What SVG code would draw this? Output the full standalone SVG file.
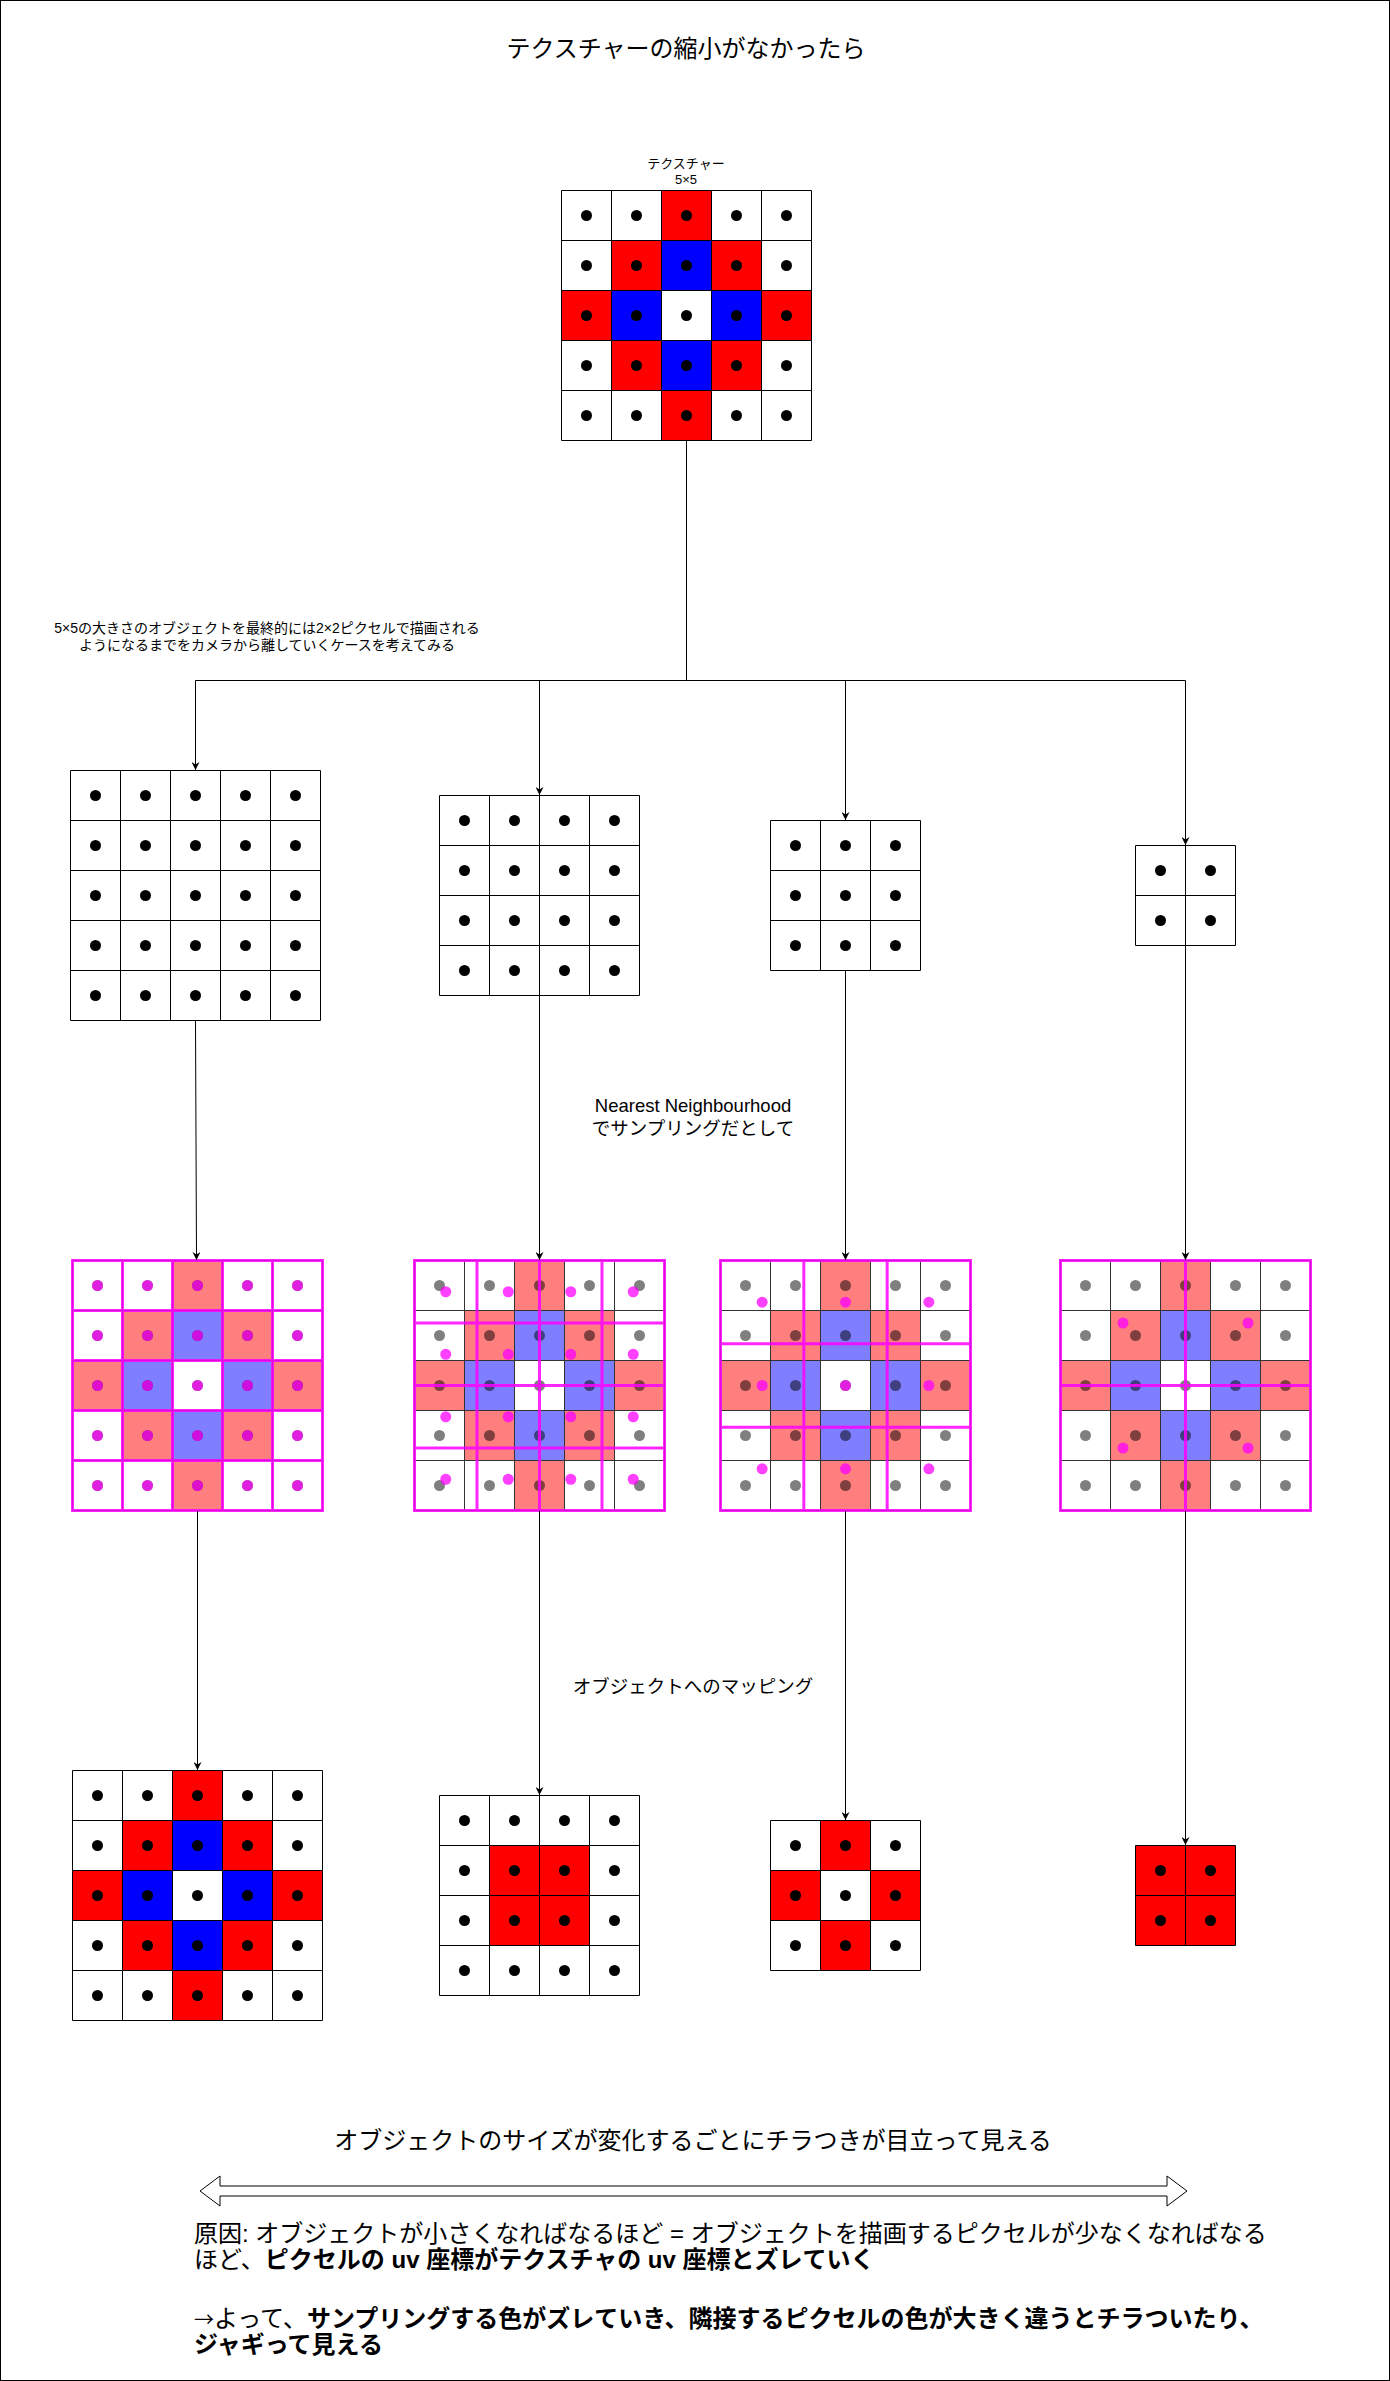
<svg xmlns="http://www.w3.org/2000/svg" xmlns:xlink="http://www.w3.org/1999/xlink" width="1390" height="2381" viewBox="0 0 1390 2381">
<style>
  text { font-family: "Liberation Sans", "Noto Sans CJK JP", sans-serif; fill: #000; }
  .grid { fill: none; stroke: #000; stroke-width: 1; }
  .fgrid { fill: none; stroke: #333; stroke-width: 1; }
  .mgrid { fill: none; stroke: #FF00FF; stroke-width: 3; stroke-opacity: 0.85; }
  .red { fill: #FF0000; }
  .blue { fill: #0000FF; }
  .bg { fill: #FFFFFF; }
  .conn { fill: none; stroke: #000; stroke-width: 1; }
  .mdot { fill: #FF00FF; fill-opacity: 0.75; }
</style>
<defs>
  <marker id="arr" viewBox="0 0 10 10" refX="10" refY="5" markerWidth="8" markerHeight="8" markerUnits="userSpaceOnUse" orient="auto">
    <path d="M0,0 L10,5 L0,10 L3,5 Z" fill="#000"/>
  </marker>
  <g id="cells5">
    <rect class="red" x="100" y="0" width="50" height="50"/>
    <rect class="red" x="50" y="50" width="50" height="50"/>
    <rect class="blue" x="100" y="50" width="50" height="50"/>
    <rect class="red" x="150" y="50" width="50" height="50"/>
    <rect class="red" x="0" y="100" width="50" height="50"/>
    <rect class="blue" x="50" y="100" width="50" height="50"/>
    <rect class="blue" x="150" y="100" width="50" height="50"/>
    <rect class="red" x="200" y="100" width="50" height="50"/>
    <rect class="red" x="50" y="150" width="50" height="50"/>
    <rect class="blue" x="100" y="150" width="50" height="50"/>
    <rect class="red" x="150" y="150" width="50" height="50"/>
    <rect class="red" x="100" y="200" width="50" height="50"/>
  </g>
  <path id="grid5" d="M0,0H250V250H0Z M50,0V250 M100,0V250 M150,0V250 M200,0V250 M0,50H250 M0,100H250 M0,150H250 M0,200H250"/>
  <path id="grid4" d="M0,0H200V200H0Z M50,0V200 M100,0V200 M150,0V200 M0,50H200 M0,100H200 M0,150H200"/>
  <path id="grid3" d="M0,0H150V150H0Z M50,0V150 M100,0V150 M0,50H150 M0,100H150"/>
  <path id="grid2" d="M0,0H100V100H0Z M50,0V100 M0,50H100"/>
  <g id="dots5">
    <circle cx="25" cy="25" r="5.5"/><circle cx="75" cy="25" r="5.5"/><circle cx="125" cy="25" r="5.5"/><circle cx="175" cy="25" r="5.5"/><circle cx="225" cy="25" r="5.5"/>
    <circle cx="25" cy="75" r="5.5"/><circle cx="75" cy="75" r="5.5"/><circle cx="125" cy="75" r="5.5"/><circle cx="175" cy="75" r="5.5"/><circle cx="225" cy="75" r="5.5"/>
    <circle cx="25" cy="125" r="5.5"/><circle cx="75" cy="125" r="5.5"/><circle cx="125" cy="125" r="5.5"/><circle cx="175" cy="125" r="5.5"/><circle cx="225" cy="125" r="5.5"/>
    <circle cx="25" cy="175" r="5.5"/><circle cx="75" cy="175" r="5.5"/><circle cx="125" cy="175" r="5.5"/><circle cx="175" cy="175" r="5.5"/><circle cx="225" cy="175" r="5.5"/>
    <circle cx="25" cy="225" r="5.5"/><circle cx="75" cy="225" r="5.5"/><circle cx="125" cy="225" r="5.5"/><circle cx="175" cy="225" r="5.5"/><circle cx="225" cy="225" r="5.5"/>
  </g>
  <g id="dots4">
    <circle cx="25" cy="25" r="5.5"/><circle cx="75" cy="25" r="5.5"/><circle cx="125" cy="25" r="5.5"/><circle cx="175" cy="25" r="5.5"/>
    <circle cx="25" cy="75" r="5.5"/><circle cx="75" cy="75" r="5.5"/><circle cx="125" cy="75" r="5.5"/><circle cx="175" cy="75" r="5.5"/>
    <circle cx="25" cy="125" r="5.5"/><circle cx="75" cy="125" r="5.5"/><circle cx="125" cy="125" r="5.5"/><circle cx="175" cy="125" r="5.5"/>
    <circle cx="25" cy="175" r="5.5"/><circle cx="75" cy="175" r="5.5"/><circle cx="125" cy="175" r="5.5"/><circle cx="175" cy="175" r="5.5"/>
  </g>
  <g id="dots3">
    <circle cx="25" cy="25" r="5.5"/><circle cx="75" cy="25" r="5.5"/><circle cx="125" cy="25" r="5.5"/>
    <circle cx="25" cy="75" r="5.5"/><circle cx="75" cy="75" r="5.5"/><circle cx="125" cy="75" r="5.5"/>
    <circle cx="25" cy="125" r="5.5"/><circle cx="75" cy="125" r="5.5"/><circle cx="125" cy="125" r="5.5"/>
  </g>
  <g id="dots2">
    <circle cx="25" cy="25" r="5.5"/><circle cx="75" cy="25" r="5.5"/>
    <circle cx="25" cy="75" r="5.5"/><circle cx="75" cy="75" r="5.5"/>
  </g>
</defs>

<rect x="0.5" y="0.5" width="1389" height="2380" fill="#FFFFFF" stroke="#000" stroke-width="1"/>

<g id="title">
  <text x="686" y="57" font-size="24" text-anchor="middle">テクスチャーの縮小がなかったら</text>
</g>

<g id="texture-label">
  <text x="686" y="168" font-size="13" text-anchor="middle">テクスチャー</text>
  <text x="686" y="184" font-size="13" text-anchor="middle">5×5</text>
</g>

<g id="texture" transform="translate(561.5,190.5)">
  <rect class="bg" width="250" height="250"/>
  <use href="#cells5"/>
  <use href="#grid5" class="grid"/>
  <use href="#dots5" fill="#000"/>
</g>

<g id="note">
  <text x="267" y="633" font-size="14" text-anchor="middle">5×5の大きさのオブジェクトを最終的には2×2ピクセルで描画される</text>
  <text x="267" y="650" font-size="14" text-anchor="middle">ようになるまでをカメラから離していくケースを考えてみる</text>
</g>

<g id="top-5x5" transform="translate(70.5,770.5)">
  <rect class="bg" width="250" height="250"/>
  <use href="#grid5" class="grid"/>
  <use href="#dots5" fill="#000"/>
</g>
<g id="top-4x4" transform="translate(439.5,795.5)">
  <rect class="bg" width="200" height="200"/>
  <use href="#grid4" class="grid"/>
  <use href="#dots4" fill="#000"/>
</g>
<g id="top-3x3" transform="translate(770.5,820.5)">
  <rect class="bg" width="150" height="150"/>
  <use href="#grid3" class="grid"/>
  <use href="#dots3" fill="#000"/>
</g>
<g id="top-2x2" transform="translate(1135.5,845.5)">
  <rect class="bg" width="100" height="100"/>
  <use href="#grid2" class="grid"/>
  <use href="#dots2" fill="#000"/>
</g>

<g id="nearest-label">
  <text x="693" y="1112" font-size="18.5" text-anchor="middle">Nearest Neighbourhood</text>
  <text x="693" y="1135" font-size="18.5" text-anchor="middle">でサンプリングだとして</text>
</g>

<g id="mid-5x5" transform="translate(72.5,1260.5)">
  <rect class="bg" width="250" height="250"/>
  <use href="#cells5" opacity="0.5"/>
  <use href="#grid5" class="fgrid"/>
  <use href="#dots5" fill="#000" fill-opacity="0.5"/>
  <path class="mgrid" d="M0,0H250V250H0Z M50,0V250 M100,0V250 M150,0V250 M200,0V250 M0,50H250 M0,100H250 M0,150H250 M0,200H250"/>
  <use href="#dots5" class="mdot"/>
</g>

<g id="mid-4x4" transform="translate(414.5,1260.5)">
  <rect class="bg" width="250" height="250"/>
  <use href="#cells5" opacity="0.5"/>
  <use href="#grid5" class="fgrid"/>
  <use href="#dots5" fill="#000" fill-opacity="0.5"/>
  <path class="mgrid" d="M0,0H250V250H0Z M62.5,0V250 M125,0V250 M187.5,0V250 M0,62.5H250 M0,125H250 M0,187.5H250"/>
  <g class="mdot">
    <circle cx="31.25" cy="31.25" r="5.5"/><circle cx="93.75" cy="31.25" r="5.5"/><circle cx="156.25" cy="31.25" r="5.5"/><circle cx="218.75" cy="31.25" r="5.5"/>
    <circle cx="31.25" cy="93.75" r="5.5"/><circle cx="93.75" cy="93.75" r="5.5"/><circle cx="156.25" cy="93.75" r="5.5"/><circle cx="218.75" cy="93.75" r="5.5"/>
    <circle cx="31.25" cy="156.25" r="5.5"/><circle cx="93.75" cy="156.25" r="5.5"/><circle cx="156.25" cy="156.25" r="5.5"/><circle cx="218.75" cy="156.25" r="5.5"/>
    <circle cx="31.25" cy="218.75" r="5.5"/><circle cx="93.75" cy="218.75" r="5.5"/><circle cx="156.25" cy="218.75" r="5.5"/><circle cx="218.75" cy="218.75" r="5.5"/>
  </g>
</g>

<g id="mid-3x3" transform="translate(720.5,1260.5)">
  <rect class="bg" width="250" height="250"/>
  <use href="#cells5" opacity="0.5"/>
  <use href="#grid5" class="fgrid"/>
  <use href="#dots5" fill="#000" fill-opacity="0.5"/>
  <path class="mgrid" d="M0,0H250V250H0Z M83.33,0V250 M166.67,0V250 M0,83.33H250 M0,166.67H250"/>
  <g class="mdot">
    <circle cx="41.67" cy="41.67" r="5.5"/><circle cx="125" cy="41.67" r="5.5"/><circle cx="208.33" cy="41.67" r="5.5"/>
    <circle cx="41.67" cy="125" r="5.5"/><circle cx="125" cy="125" r="5.5"/><circle cx="208.33" cy="125" r="5.5"/>
    <circle cx="41.67" cy="208.33" r="5.5"/><circle cx="125" cy="208.33" r="5.5"/><circle cx="208.33" cy="208.33" r="5.5"/>
  </g>
</g>

<g id="mid-2x2" transform="translate(1060.5,1260.5)">
  <rect class="bg" width="250" height="250"/>
  <use href="#cells5" opacity="0.5"/>
  <use href="#grid5" class="fgrid"/>
  <use href="#dots5" fill="#000" fill-opacity="0.5"/>
  <path class="mgrid" d="M0,0H250V250H0Z M125,0V250 M0,125H250"/>
  <g class="mdot">
    <circle cx="62.5" cy="62.5" r="5.5"/><circle cx="187.5" cy="62.5" r="5.5"/>
    <circle cx="62.5" cy="187.5" r="5.5"/><circle cx="187.5" cy="187.5" r="5.5"/>
  </g>
</g>

<g id="mapping-label">
  <text x="693" y="1693" font-size="18.5" text-anchor="middle">オブジェクトへのマッピング</text>
</g>

<g id="result-5x5" transform="translate(72.5,1770.5)">
  <rect class="bg" width="250" height="250"/>
  <use href="#cells5"/>
  <use href="#grid5" class="grid"/>
  <use href="#dots5" fill="#000"/>
</g>
<g id="result-4x4" transform="translate(439.5,1795.5)">
  <rect class="bg" width="200" height="200"/>
  <rect class="red" x="50" y="50" width="100" height="100"/>
  <use href="#grid4" class="grid"/>
  <use href="#dots4" fill="#000"/>
</g>
<g id="result-3x3" transform="translate(770.5,1820.5)">
  <rect class="bg" width="150" height="150"/>
  <rect class="red" x="50" y="0" width="50" height="50"/>
  <rect class="red" x="0" y="50" width="50" height="50"/>
  <rect class="red" x="100" y="50" width="50" height="50"/>
  <rect class="red" x="50" y="100" width="50" height="50"/>
  <use href="#grid3" class="grid"/>
  <use href="#dots3" fill="#000"/>
</g>
<g id="result-2x2" transform="translate(1135.5,1845.5)">
  <rect class="red" width="100" height="100"/>
  <use href="#grid2" class="grid"/>
  <use href="#dots2" fill="#000"/>
</g>

<g id="connectors" class="conn">
  <path d="M686.5,440 V680.5 M195.5,680.5 H1185.5"/>
  <path d="M195.5,680.5 V770" marker-end="url(#arr)"/>
  <path d="M539.5,680.5 V795" marker-end="url(#arr)"/>
  <path d="M845.5,680.5 V820" marker-end="url(#arr)"/>
  <path d="M1185.5,680.5 V845" marker-end="url(#arr)"/>
  <path d="M195.5,1021 L196.5,1260" marker-end="url(#arr)"/>
  <path d="M539.5,996 V1260" marker-end="url(#arr)"/>
  <path d="M845.5,971 V1260" marker-end="url(#arr)"/>
  <path d="M1185.5,946 V1260" marker-end="url(#arr)"/>
  <path d="M197.5,1511 V1770" marker-end="url(#arr)"/>
  <path d="M539.5,1511 V1795" marker-end="url(#arr)"/>
  <path d="M845.5,1511 V1820" marker-end="url(#arr)"/>
  <path d="M1185.5,1511 V1845" marker-end="url(#arr)"/>
</g>

<g id="summary-title">
  <text x="693" y="2149" font-size="24" text-anchor="middle">オブジェクトのサイズが変化するごとにチラつきが目立って見える</text>
</g>

<g id="double-arrow">
  <path d="M200,2191 L220,2176 L220,2186 L1167,2186 L1167,2176 L1187,2191 L1167,2206 L1167,2196 L220,2196 L220,2206 Z" fill="#FFFFFF" stroke="#000" stroke-width="1"/>
</g>

<g id="explanation">
  <text x="194" y="2242" font-size="24">原因: オブジェクトが小さくなればなるほど = オブジェクトを描画するピクセルが少なくなればなる</text>
  <text x="194" y="2268" font-size="24">ほど、<tspan font-weight="bold">ピクセルの uv 座標がテクスチャの uv 座標とズレていく</tspan></text>
  <text x="194" y="2327" font-size="24"><tspan font-family="'Noto Sans CJK JP', sans-serif" font-size="20">→</tspan>よって、<tspan font-weight="bold">サンプリングする色がズレていき、隣接するピクセルの色が大きく違うとチラついたり、</tspan></text>
  <text x="194" y="2353" font-size="24" font-weight="bold">ジャギって見える</text>
</g>
</svg>
